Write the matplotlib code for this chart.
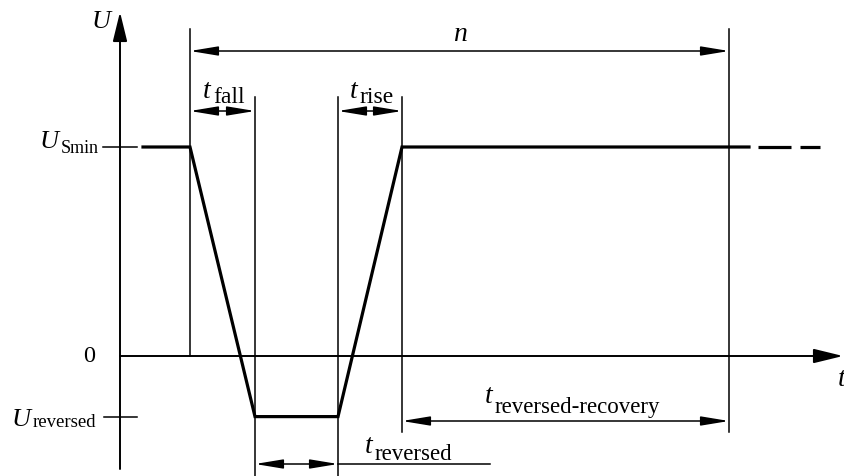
#!/usr/bin/env python3

import matplotlib.pyplot as plt

plt.rcParams['font.family'] = 'Liberation Serif'

# voltage levels (U_Smin = 1)
u_smin = 1.0
u_rev = -0.29

# time points of the waveform
t_start = 0.7
t_fall_end = 1.35
t_rise_start = 2.18
t_rise_end = 2.82
t_n_end = 6.09

sig_t = [0.23, t_start, t_fall_end, t_rise_start, t_rise_end, 6.29]
sig_u = [u_smin, u_smin, u_rev, u_rev, u_smin, u_smin]
dash_t = [[6.38, 6.71], [6.80, 7.00]]

fig = plt.figure(figsize=(8.45, 4.77), dpi=100)
ax = fig.add_axes([0, 0, 1, 1])
ax.set_xlim(-1.20, 7.25)
ax.set_ylim(-120 / 209, 357 / 209)
ax.axis('off')

px_u = 1 / 209  # one pixel in U units

# axes
axis_arrow = dict(arrowstyle='-|>,head_length=0.9,head_width=0.22',
                  mutation_scale=20, lw=1.4, color='black', shrinkA=0, shrinkB=0)
ax.annotate('', xy=(7.23, 0), xytext=(0, 0), arrowprops=axis_arrow)
ax.annotate('', xy=(0, 344 * px_u), xytext=(0, -113 * px_u), arrowprops=axis_arrow)

# ticks on U axis
ax.plot([-0.17, 0.17], [u_smin, u_smin], color='black', lw=1.1)
ax.plot([-0.16, 0.17], [u_rev, u_rev], color='black', lw=1.1)

# waveform
ax.plot(sig_t, sig_u, color='black', lw=2.3, solid_joinstyle='miter')
for d in dash_t:
    ax.plot(d, [u_smin, u_smin], color='black', lw=2.3, solid_capstyle='butt')

# vertical reference lines (t, top, bottom in U units)
vlines = [
    (t_start, 327 * px_u, 0),
    (t_fall_end, 259 * px_u, -120 * px_u),
    (t_rise_start, 259 * px_u, -120 * px_u),
    (t_rise_end, 259 * px_u, -76 * px_u),
    (t_n_end, 327 * px_u, -76 * px_u),
]
for x, y0, y1 in vlines:
    ax.plot([x, x], [y1, y0], color='black', lw=1.1)

arrow = dict(arrowstyle='<|-|>,head_length=0.85,head_width=0.14',
             mutation_scale=20, lw=1.1, color='black', shrinkA=0, shrinkB=0)


def dim(x0, x1, y):
    ax.annotate('', xy=(x1, y), xytext=(x0, y), arrowprops=arrow)


dim(t_start, t_n_end, 305 * px_u)
dim(t_start, t_fall_end, 245 * px_u)
dim(t_rise_start, t_rise_end, 245 * px_u)
dim(t_rise_end, t_n_end, -65 * px_u)
dim(t_fall_end, t_rise_start, -108 * px_u)
ax.plot([t_rise_start, 3.70], [-108 * px_u, -108 * px_u], color='black', lw=1.1)


def sym(x, y, main, size, sub=None, sy=None, subsize=None, gap=1.0):
    m = ax.text(x, y, main, fontsize=size, style='italic', ha='left', va='baseline')
    if sub:
        ax.annotate(sub, xy=(1, sy), xycoords=(m, 'data'),
                    xytext=(gap, 0), textcoords='offset points',
                    fontsize=subsize, ha='left', va='baseline')


sym(-0.28, 329 * px_u, 'U', 19)
sym(7.18, -29 * px_u, 't', 20)
sym(3.33, 316 * px_u, 'n', 20)
sym(-0.80, u_smin, 'U', 19, 'Smin', 204 * px_u, 13)
sym(-1.08, -69 * px_u, 'U', 19, 'reversed', -70 * px_u, 13.5)
sym(0.83, 259 * px_u, 't', 20, 'fall', 254 * px_u, 17, gap=1.5)
sym(2.30, 259 * px_u, 't', 20, 'rise', 254 * px_u, 17, gap=1.5)
sym(3.65, -46 * px_u, 't', 20, 'reversed-recovery', -56 * px_u, 16.5, gap=1.5)
sym(2.45, -96 * px_u, 't', 20, 'reversed', -103 * px_u, 16.5, gap=1.5)
ax.text(-0.25, 0, '0', fontsize=17.5, ha='right', va='center')

fig.savefig('out.png', dpi=100)
